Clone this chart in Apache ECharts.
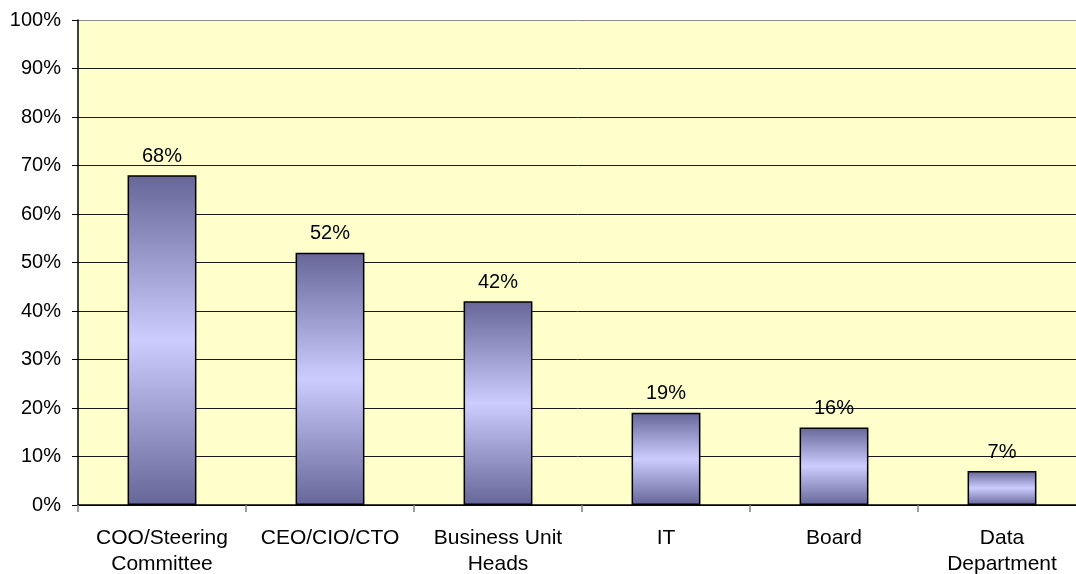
<!DOCTYPE html>
<html>
<head>
<meta charset="utf-8">
<style>
  html, body { margin: 0; padding: 0; background: #ffffff; }
  #chart { width: 1076px; height: 574px; }
</style>
<script src="https://cdn.jsdelivr.net/npm/echarts@6/dist/echarts.min.js"></script>
</head>
<body>
<div id="chart"></div>
<script>
// Who drives the initiative: share of respondents per role
const categories = ['COO/Steering\nCommittee', 'CEO/CIO/CTO', 'Business Unit\nHeads', 'IT', 'Board', 'Data\nDepartment'];
const shares = [68, 52, 42, 19, 16, 7];
const yTicks = [0, 10, 20, 30, 40, 50, 60, 70, 80, 90, 100];

const FONT = '"Liberation Sans", Arial, sans-serif';

// Gridlines are dark; the top line doubles as the plot frame and is grey
const gridColors = yTicks.map((v, i) => (i === yTicks.length - 1 ? '#8c8c8c' : '#1a1a1a'));

const chart = echarts.init(document.getElementById('chart'), null, { renderer: 'canvas' });

chart.setOption({
  animation: false,
  backgroundColor: '#ffffff',
  grid: {
    left: 78,
    top: 20,
    width: 1008,
    height: 485,
    outerBoundsMode: 'none',
    containLabel: false,
    show: true,
    backgroundColor: '#ffffcc',
    borderWidth: 0
  },
  xAxis: {
    type: 'category',
    data: categories,
    axisLine: { show: true, lineStyle: { color: '#000000', width: 1.5 } },
    axisTick: { show: true, alignWithLabel: false, length: 7, lineStyle: { color: '#808080', width: 1.5 } },
    axisLabel: {
      interval: 0,
      margin: 20,
      fontFamily: FONT,
      fontSize: 21,
      color: '#000000',
      lineHeight: 26
    },
    splitLine: { show: false }
  },
  yAxis: {
    type: 'value',
    min: 0,
    max: 100,
    interval: 10,
    axisLine: { show: true, lineStyle: { color: '#000000', width: 1.5 } },
    axisTick: { show: true, length: 6, lineStyle: { color: '#000000', width: 1 } },
    axisLabel: {
      margin: 17,
      fontFamily: FONT,
      fontSize: 20,
      color: '#000000',
      formatter: v => v + '%'
    },
    splitLine: { show: true, lineStyle: { color: gridColors, width: 1 } }
  },
  series: [{
    type: 'bar',
    data: shares,
    barWidth: '41%',
    itemStyle: {
      color: new echarts.graphic.LinearGradient(0, 0, 0, 1, [
        { offset: 0, color: '#666699' },
        { offset: 0.5, color: '#ccccff' },
        { offset: 1, color: '#666699' }
      ]),
      borderColor: '#000000',
      borderWidth: 1.5
    },
    label: {
      show: true,
      position: 'top',
      distance: 9,
      fontFamily: FONT,
      fontSize: 20,
      color: '#000000',
      formatter: p => p.value + '%'
    }
  }]
});
</script>
</body>
</html>
